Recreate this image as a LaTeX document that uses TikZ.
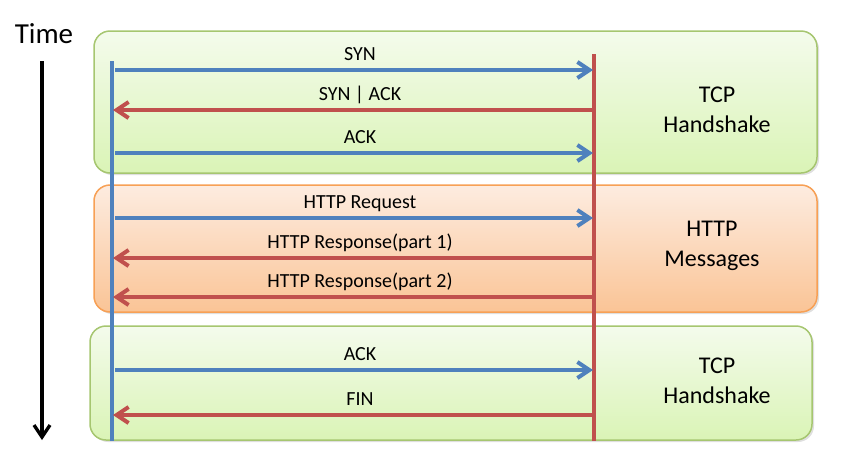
\documentclass[tikz,border=0pt]{standalone}
\usepackage{fontspec}
\setmainfont{Carlito}
\usepackage{tikz}
\usetikzlibrary{arrows.meta,shadows}
\definecolor{msgblue}{RGB}{79,129,189}
\definecolor{msgred}{RGB}{192,80,77}
\definecolor{tcpborder}{RGB}{166,198,112}
\definecolor{tcptop}{RGB}{244,251,236}
\definecolor{tcpbottom}{RGB}{218,244,182}
\definecolor{httpborder}{RGB}{247,160,85}
\definecolor{httptop}{RGB}{253,236,224}
\definecolor{httpbottom}{RGB}{250,196,150}
\newcommand{\figurescale}{1pt}
\newcommand{\makemsg}[6]{
	\coordinate (#1a) at (#2,#4);
	\coordinate (#1b) at (#3,#4);
	\draw[#5] (#1a) -- (#1b);
	\node[msglabel] (#1) at (360,#4-10) {#6};
}

\begin{document}
\begin{tikzpicture}[x=\figurescale,y=-\figurescale,
	tcpbox/.style={draw=tcpborder, line width=1.5pt, rounded corners=16pt, top color=tcptop, bottom color=tcpbottom, drop shadow={shadow xshift=2pt, shadow yshift=-2pt, opacity=0.25}},
	httpbox/.style={draw=httpborder, line width=1.5pt, rounded corners=16pt, top color=httptop, bottom color=httpbottom, drop shadow={shadow xshift=2pt, shadow yshift=-2pt, opacity=0.25}},
	tosrv/.style={msgblue, line width=4pt, -{Straight Barb[length=12pt,width=16pt]}},
	tocli/.style={msgred, line width=4pt, -{Straight Barb[length=12pt,width=16pt]}},
	msglabel/.style={anchor=base, font=\fontsize{20}{24}\selectfont},
	phase/.style={align=center, font=\fontsize{24}{30}\selectfont}]
	\useasboundingbox (0,0) rectangle (854,472);

	\draw[tcpbox] (94,31) rectangle (817,173);
	\draw[httpbox] (94,185) rectangle (817,312);
	\draw[tcpbox] (90,326) rectangle (812,440);

	\node[anchor=base, font=\fontsize{29}{34}\selectfont] (time) at (44,43) {Time};
	\coordinate (timetop) at (42,61);
	\coordinate (timebot) at (42,440);
	\draw[line width=3.3pt, -{Straight Barb[length=12pt,width=16pt]}] (timetop) -- (timebot);

	\coordinate (clitop) at (112,61);
	\coordinate (clibot) at (112,441);
	\coordinate (srvtop) at (594,54);
	\coordinate (srvbot) at (594,441);
	\draw[msgred, line width=3.3pt] (srvtop) -- (srvbot);
	\draw[msgblue, line width=3.3pt] (clitop) -- (clibot);

	\makemsg{syn}{115}{593}{70}{tosrv}{SYN}
	\makemsg{synack}{593}{113}{110}{tocli}{SYN | ACK}
	\makemsg{ack}{115}{593}{153}{tosrv}{ACK}
	\makemsg{req}{115}{593}{218}{tosrv}{HTTP Request}
	\makemsg{respa}{593}{113}{258}{tocli}{HTTP Response(part 1)}
	\makemsg{respb}{593}{113}{297}{tocli}{HTTP Response(part 2)}
	\makemsg{ackend}{115}{593}{370}{tosrv}{ACK}
	\makemsg{fin}{593}{113}{415}{tocli}{FIN}

	\node[phase] (tcpopen) at (717,110) {TCP\\Handshake};
	\node[phase] (httpmsgs) at (712,246) {HTTP\\Messages};
	\node[phase] (tcpclose) at (717,381) {TCP\\Handshake};

	\end{tikzpicture}
\end{document}
